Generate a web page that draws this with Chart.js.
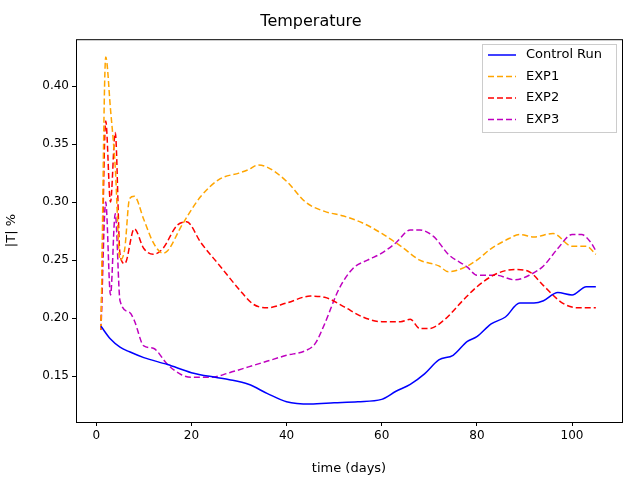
<!DOCTYPE html><html><head><script src="https://cdn.jsdelivr.net/npm/chart.js@4"></script>
<style>body{margin:0;background:#fff}</style></head><body><canvas id="c" width="640" height="480"></canvas>
<script>
const ctrlX=[1,3,5,7,10,15,20,25,28,32,36,40,45,50,55,60,63,66,69,72,75,78,80,83,86,89,92,94,97,100,103,105];
const ctrlY=[0.193,0.182,0.175,0.171,0.166,0.160,0.153,0.149,0.147,0.143,0.135,0.128,0.126,0.127,0.128,0.130,0.137,0.143,0.152,0.164,0.168,0.180,0.184,0.195,0.201,0.213,0.213,0.215,0.222,0.220,0.227,0.227];
const e1X=[1,2,3,4,5,6,7,8,10,12,14,15,18,22,26,30,32,34,36,40,44,48,52,56,60,64,68,72,74,77,80,83,86,89,92,96,100,103,105];
const e1Y=[0.19,0.425,0.38,0.33,0.25,0.26,0.303,0.305,0.285,0.265,0.256,0.258,0.28,0.305,0.32,0.325,0.328,0.332,0.33,0.318,0.30,0.292,0.288,0.282,0.273,0.262,0.25,0.245,0.24,0.243,0.25,0.26,0.267,0.272,0.27,0.273,0.262,0.262,0.255];
const e2X=[1,2,3,4,5,6,8,10,12,14,17,19,22,26,30,33,36,40,45,48,52,56,60,64,66,68,70,73,77,80,84,88,91,94,98,101,105];
const e2Y=[0.19,0.37,0.30,0.36,0.255,0.247,0.277,0.26,0.255,0.26,0.28,0.283,0.265,0.245,0.225,0.212,0.209,0.213,0.219,0.218,0.21,0.201,0.197,0.197,0.199,0.191,0.191,0.198,0.215,0.227,0.238,0.242,0.24,0.228,0.213,0.209,0.209];
const e3X=[1,2,3,4,5,7,8,10,12,15,18,20,24,28,32,36,40,44,46,48,51,54,57,60,63,66,68,71,74,78,80,84,88,91,94,97,100,102,104,105];
const e3Y=[0.19,0.30,0.22,0.29,0.215,0.205,0.198,0.176,0.174,0.16,0.151,0.149,0.149,0.153,0.158,0.163,0.168,0.172,0.178,0.195,0.225,0.243,0.25,0.256,0.265,0.276,0.276,0.27,0.255,0.244,0.237,0.237,0.233,0.237,0.245,0.26,0.272,0.272,0.265,0.258];
const names=['Control Run','EXP1','EXP2','EXP3'];
const colors=['#0000ff','#ffa500','#ff0000','#bf00bf'];
const xs=[ctrlX,e1X,e2X,e3X], ys=[ctrlY,e1Y,e2Y,e3Y];
const ds=names.map((n,i)=>({label:n,data:xs[i].map((x,j)=>({x:x,y:ys[i][j]})),borderColor:colors[i],borderWidth:1.5,pointRadius:0,cubicInterpolationMode:'monotone',borderDash:i?[6,3]:[],fill:false}));
const F='"DejaVu Sans"';
const deco={id:'deco',afterDraw(ch){const c=ch.ctx,a=ch.chartArea;c.save();c.strokeStyle='#000';c.lineWidth=1;c.strokeRect(a.left+.5,a.top+.5,a.right-a.left,a.bottom-a.top);
const bx=482,by=44,bw=134,bh=88;c.fillStyle='rgba(255,255,255,0.85)';c.strokeStyle='#ccc';c.fillRect(bx,by,bw,bh);c.strokeRect(bx+.5,by+.5,bw,bh);
c.font='13px '+F;c.textBaseline='middle';names.forEach((n,i)=>{const y=by+11+i*21.5;c.strokeStyle=colors[i];c.lineWidth=1.5;c.setLineDash(i?[6,3]:[]);c.beginPath();c.moveTo(bx+6,y);c.lineTo(bx+34,y);c.stroke();c.fillStyle='#000';c.fillText(n,bx+44,y);});c.restore();}};
new Chart(document.getElementById('c'),{type:'line',data:{datasets:ds},plugins:[deco],options:{responsive:false,animation:false,devicePixelRatio:1,
layout:{padding:{right:18,top:0,left:0,bottom:0}},
plugins:{legend:{display:false},title:{display:true,text:'Temperature',color:'#000',font:{family:F,size:16,weight:'normal'},padding:{top:12,bottom:8}}},
scales:{x:{type:'linear',min:-4.25,max:110.5,afterBuildTicks(s){s.ticks=[0,20,40,60,80,100].map(v=>({value:v}));},afterFit(s){s.height=58;},
grid:{drawOnChartArea:false,tickLength:4,color:'#000'},border:{display:false},ticks:{color:'#000',font:{family:F,size:12},maxRotation:0},
title:{display:true,text:'time (days)',color:'#000',font:{family:F,size:13},padding:{top:2}}},
y:{min:0.1105,max:0.4404,afterBuildTicks(s){s.ticks=[0.15,0.20,0.25,0.30,0.35,0.40].map(v=>({value:v}));},afterFit(s){s.width=76;},
grid:{drawOnChartArea:false,tickLength:4,color:'#000'},border:{display:false},ticks:{color:'#000',font:{family:F,size:12},callback:v=>v.toFixed(2)},
title:{display:true,text:'|T| %',color:'#000',font:{family:F,size:13},padding:{bottom:4}}}}}});
</script></body></html>
